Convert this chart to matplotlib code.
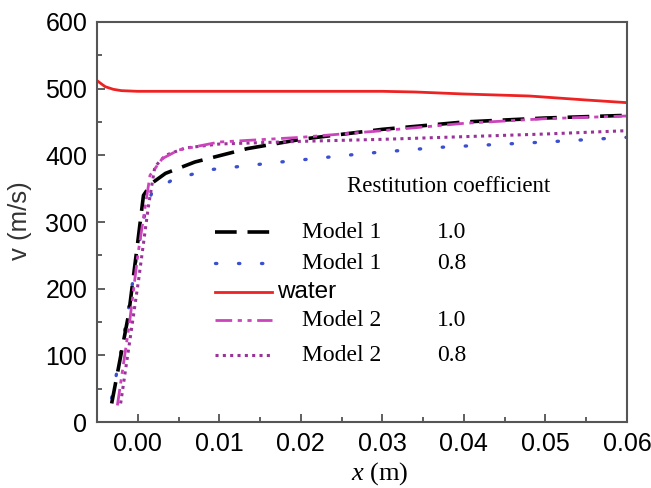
import numpy as np
import matplotlib
matplotlib.use('Agg')
import matplotlib.pyplot as plt
from matplotlib.ticker import MultipleLocator

plt.rcParams['font.family'] = 'Liberation Sans'
plt.rcParams['mathtext.fontset'] = 'custom'
plt.rcParams['mathtext.it'] = 'Liberation Serif:italic'
plt.rcParams['mathtext.rm'] = 'Liberation Serif'

# data
x_m1_10 = [-0.0032, -0.002, -0.0011, 0.0, 0.0007, 0.0017, 0.0034, 0.007, 0.0134, 0.02, 0.03, 0.04, 0.05, 0.06]
v_m1_10 = [28, 105, 163, 270, 340, 358, 373, 390, 410, 424, 439, 450, 456, 460]

x_m1_08 = [-0.0032, -0.002, -0.001, 0.0, 0.001, 0.0017, 0.0042, 0.0085, 0.0175, 0.028, 0.037, 0.05, 0.06]
v_m1_08 = [36, 110, 180, 260, 320, 343, 363, 378, 390, 403, 412, 420, 427]

x_water = [-0.005, -0.004, -0.003, -0.002, 0.0, 0.02, 0.03, 0.034, 0.04, 0.048, 0.055, 0.06]
v_water = [512, 503, 499, 497, 496, 496, 496, 495, 492, 489, 483, 479]

x_m2_10 = [-0.0025, -0.001, 0.0, 0.0015, 0.003, 0.005, 0.01, 0.02, 0.03, 0.04, 0.05, 0.06]
v_m2_10 = [25, 150, 250, 370, 395, 408, 420, 427, 437, 448, 455, 459]

x_m2_08 = [-0.0021, -0.001, 0.0001, 0.0013, 0.0021, 0.0034, 0.0058, 0.01, 0.02, 0.03, 0.04, 0.05, 0.06]
v_m2_08 = [28, 120, 213, 323, 383, 400, 411, 417, 421, 424, 428, 432, 437]

labels = ['Model 1', 'Model 1', 'water', 'Model 2', 'Model 2']
coefs = ['1.0', '0.8', '', '1.0', '0.8']

fig = plt.figure(figsize=(6.51, 4.88), dpi=100)
ax = fig.add_axes([0.149, 0.135, 0.814, 0.82])

styles = [
    dict(color='black', lw=2.6, dashes=(6, 3)),
    dict(color='#3b4fd0', lw=2.4, dashes=(0.4, 6.5), dash_capstyle='round'),
    dict(color='#ee2222', lw=2.0, linestyle='-'),
    dict(color='#cc44bb', lw=2.0, dashes=(6, 2, 1.5, 2, 1.5, 2)),
    dict(color='#993399', lw=2.2, dashes=(1, 1.4)),
]
series = [(x_m1_10, v_m1_10), (x_m1_08, v_m1_08), (x_water, v_water),
          (x_m2_10, v_m2_10), (x_m2_08, v_m2_08)]

# draw red first so the others sit on top like in the picture
for i in [2, 1, 0, 4, 3]:
    ax.plot(series[i][0], series[i][1], **styles[i])

ax.set_xlim(-0.005, 0.06)
ax.set_ylim(0, 600)
ax.xaxis.set_minor_locator(MultipleLocator(0.005))
ax.yaxis.set_major_locator(MultipleLocator(100))
ax.yaxis.set_minor_locator(MultipleLocator(50))
ax.set_xticks(np.arange(0, 0.061, 0.01))
ax.set_xticklabels(['0.00', '0.01', '0.02', '0.03', '0.04', '0.05', '0.06'])
ax.tick_params(which='both', direction='in', top=False, right=False, labelsize=18, pad=7)
ax.tick_params(which='major', length=6, width=1.2, color='#444444')
ax.tick_params(which='minor', length=3.5, width=1.2, color='#444444')
for s in ax.spines.values():
    s.set_color('#555555')
    s.set_linewidth(1.5)

ax.set_xlabel(r'$x$ (m)', fontsize=19, family='Liberation Serif', va='center')
ax.xaxis.set_label_coords(0.534, -0.128)
ax.set_ylabel('v (m/s)', fontsize=18.5, va='center', color='#333333')
ax.yaxis.set_label_coords(-0.145, 0.5025)

# hand made legend
ax.text(0.472, 0.59, 'Restitution coefficient', transform=ax.transAxes,
        family='Liberation Serif', fontsize=16.5, va='center')
rows = [0.475, 0.3975, 0.325, 0.255, 0.1675]
for i, yr in enumerate(rows):
    ax.plot([0.223, 0.33], [yr, yr], transform=ax.transAxes, **styles[i])
    if labels[i] == 'water':
        ax.text(0.340, yr, labels[i], transform=ax.transAxes, fontsize=17.5, va='center')
    else:
        ax.text(0.387, yr, labels[i], transform=ax.transAxes,
                family='Liberation Serif', fontsize=17, va='center')
        ax.text(0.642, yr, coefs[i], transform=ax.transAxes,
                family='Liberation Serif', fontsize=17, va='center')

fig.savefig('out.png', dpi=100)
